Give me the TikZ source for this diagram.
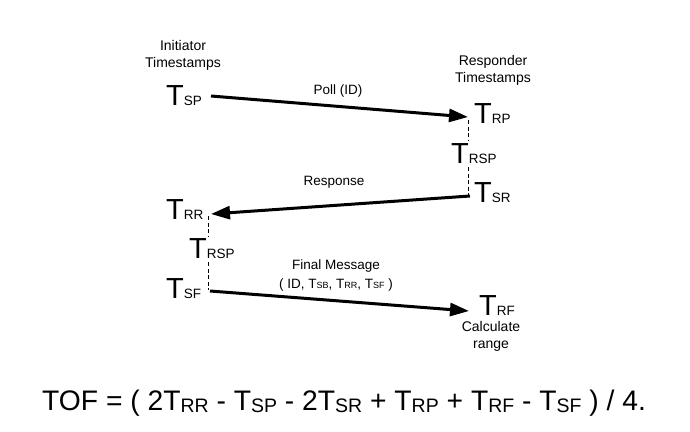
\documentclass[tikz,border=0pt]{standalone}
\usepackage{fontspec}
\setmainfont{Liberation Sans}
\usetikzlibrary{arrows.meta,positioning}

% timestamp: big T with its index
\newcommand\stamp[1]{{\fontsize{29}{29}\selectfont T}{\fontsize{13.5}{13.5}\selectfont #1}}
\newcommand\smallstamp[1]{T{\fontsize{9}{9}\selectfont #1}}
\newcommand\fstamp[1]{T\raisebox{-2pt}{\fontsize{19.5}{19.5}\selectfont #1}}

\tikzset{
  tstamp/.style={anchor=base west,inner sep=0pt},
  caption/.style={align=center,font=\fontsize{14}{17}\selectfont,inner sep=0pt},
  msglabel/.style={align=center,font=\fontsize{13.5}{19}\selectfont,inner sep=0pt},
  msg/.style={line width=3pt,-{Triangle[length=19pt,width=13pt]}},
  gap/.style={thin,dash pattern=on 4pt off 2.5pt}
}

\begin{document}
\begin{tikzpicture}[x=1pt,y=-1pt]
\useasboundingbox (0,0) rectangle (690,431);
\node[caption] (ini) at (183,55) {Initiator\\Timestamps};
\node[caption] (res) at (493,70) {Responder\\Timestamps};

% initiator side
\node[tstamp] (tsp) at (166,105) {\stamp{SP}};
\node[tstamp] (trr) at (166,219) {\stamp{RR}};
\node[tstamp] (trspi) at (189,258) {\stamp{RSP}};
\node[tstamp] (tsf) at (166,298) {\stamp{SF}};

% responder side
\node[tstamp] (trp) at (474,123) {\stamp{RP}};
\node[tstamp] (trspr) at (451,163) {\stamp{RSP}};
\node[tstamp] (tsr) at (474,202) {\stamp{SR}};
\node[tstamp] (trf) at (479,315) {\stamp{RF}};
\node[caption] (calc) at (491,336) {Calculate\\range};

\coordinate (i1) at (211,96);
\coordinate (i2) at (211,214);
\coordinate (i3) at (210,291);
\coordinate (r1) at (468,117);
\coordinate (r2) at (470,196);
\coordinate (r3) at (469,311);

% messages
\draw[msg] (i1) -- (r1);
\draw[msg] (r2) -- (i2);
\draw[msg] (i3) -- (r3);
\node[msglabel] (poll) at (338,91) {Poll (ID)};
\node[msglabel] (resp) at (334,182) {Response};
\node[msglabel] (fin) at (336,276) {Final Message\\( ID, \smallstamp{SB}, \smallstamp{RR}, \smallstamp{SF} )};

% reply delays
\draw[gap] (468,120) -- (468,140);
\draw[gap] (468,167) -- (468,196);
\draw[gap] (208,216) -- (208,237);
\draw[gap] (208,262) -- (208,290);

% range formula
\node[anchor=base west,inner sep=0pt,font=\fontsize{28.25}{28.25}\selectfont] (tof) at (42,410)
  {TOF = ( 2\fstamp{RR} - \fstamp{SP} - 2\fstamp{SR} + \fstamp{RP} + \fstamp{RF} - \fstamp{SF} ) / 4.};
\end{tikzpicture}
\end{document}
